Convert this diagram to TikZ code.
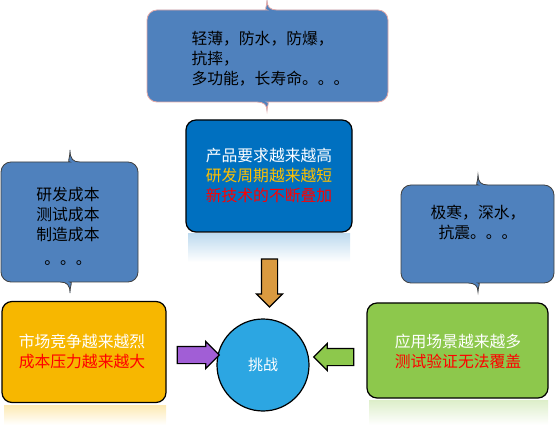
\documentclass[tikz,border=0pt]{standalone}
\usepackage{fontspec}
\newfontfamily\cjk{Noto Sans CJK SC}
\usetikzlibrary{shapes.arrows}
\definecolor{bubbleblue}{HTML}{4F81BD}
\definecolor{topblue}{HTML}{0070C0}
\definecolor{amber}{HTML}{F7B700}
\definecolor{leafgreen}{HTML}{8DC84C}
\definecolor{skyblue}{HTML}{2CA6E2}
\definecolor{arrorange}{HTML}{DA9A40}
\definecolor{arrpurple}{HTML}{A15ED6}
\definecolor{goldtext}{HTML}{FFC000}
\definecolor{pinkedge}{HTML}{E3A9A8}

\newcommand{\bubble}[8]{%
\draw[#8,rounded corners=10] ({#5+10},#2) -- (#3,#2) -- (#3,#4) -- ({#5+10},#4)
  [sharp corners] .. controls ({#5+3},#4) and (#5,{#4+3}) .. (#5,#7)
  .. controls (#5,{#4+3}) and ({#5-3},#4) .. ({#5-10},#4)
  [rounded corners=10] -- (#1,#4) -- (#1,#2) -- ({#5-10},#2)
  [sharp corners] .. controls ({#5-3},#2) and (#5,{#2-3}) .. (#5,#6)
  .. controls (#5,{#2-3}) and ({#5+3},#2) .. cycle;}

\begin{document}
\begin{tikzpicture}[x=1pt,y=-1pt,
  txt/.style={font=\cjk\fontsize{15.8}{20}\selectfont,align=center},
  box/.style={draw=black,line width=1.2pt,rounded corners=10,inner sep=0},
  blockarrow/.style={single arrow,draw=black,line width=1.2pt,inner xsep=0,inner ysep=7.5,
    single arrow head extend=5,single arrow tip angle=90}]
\useasboundingbox (0,0) rectangle (555,425);

\shade[top color=topblue!25,bottom color=white] (188,234) rectangle (350,262);
\shade[top color=amber!30,bottom color=white] (4,405) rectangle (166,425);
\shade[top color=leafgreen!30,bottom color=white] (369,400) rectangle (548,425);

\bubble{147}{10}{388}{102}{267}{0}{111}{fill=bubbleblue,draw=pinkedge,line width=0.8pt}
\bubble{1}{162}{138}{282}{70}{150}{293}{fill=bubbleblue,draw=black!75,line width=0.8pt}
\bubble{401}{185}{554}{283}{478}{175}{292}{fill=bubbleblue,draw=black!75,line width=0.8pt}

\node[txt,align=left,anchor=west] (needs) at (188,59) {轻薄，防水，防爆，\\抗摔，\\多功能，长寿命。。。};
\node[txt] (costs) at (68,226) {研发成本\\测试成本\\制造成本\\[4pt]。。。};
\node[txt] (envs) at (478,222) {极寒，深水，\\抗震。。。};

\node[box,fill=topblue,minimum width=166,minimum height=112] (product) at (269,176) {};
\node[txt] at (product) {\fontsize{15.8}{25}\selectfont\textcolor{white}{产品要求越来越高}\\\textcolor{goldtext}{研发周期越来越短}\\\textcolor{red}{新技术的不断叠加}};

\node[box,fill=amber,minimum width=164,minimum height=101] (market) at (84,352) {};
\node[txt] at (82,351) {\fontsize{15.8}{27}\selectfont\textcolor{white}{市场竞争越来越烈}\\\textcolor{red}{成本压力越来越大}};

\node[box,fill=leafgreen,minimum width=181,minimum height=95] (usage) at (457.5,350.5) {};
\node[txt] at (458,351) {\fontsize{15.8}{27}\selectfont\textcolor{white}{应用场景越来越多}\\\textcolor{red}{测试验证无法覆盖}};

\node[circle,draw=black,line width=1.2pt,fill=skyblue,minimum size=92,inner sep=0,
  font=\cjk\fontsize{15}{16}\selectfont,text=white] (challenge) at (263,365) {挑战};

\node[blockarrow,fill=arrorange,minimum height=48,rotate=-90] (a1) at (269.5,279) {};
\node[blockarrow,fill=arrpurple,minimum height=42,inner ysep=8] (a2) at (194,355) {};
\node[blockarrow,fill=leafgreen,minimum height=40,inner ysep=8,rotate=180] (a3) at (338,357) {};
\end{tikzpicture}
\end{document}
